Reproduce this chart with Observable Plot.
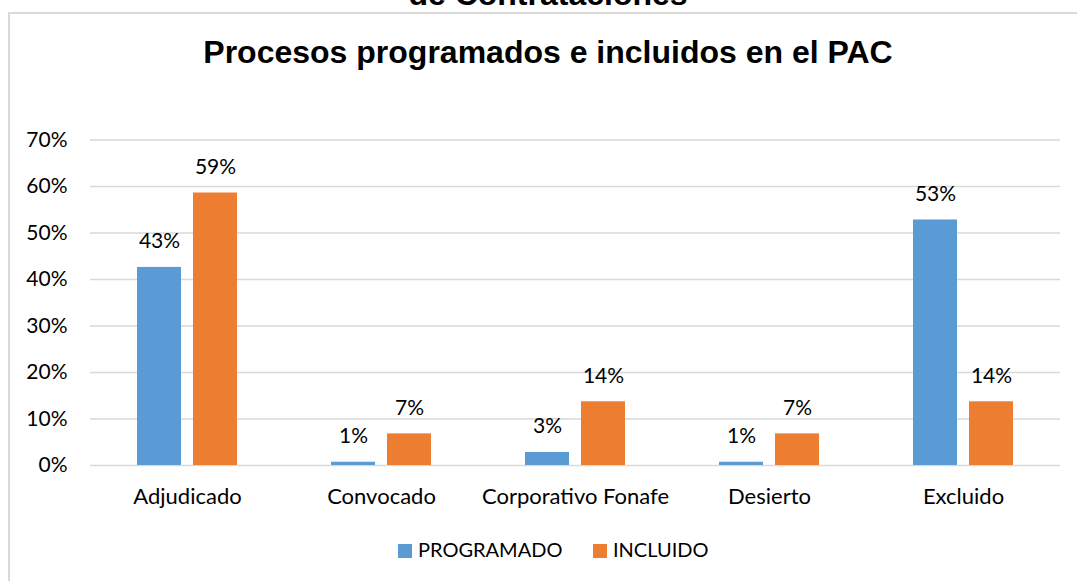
<!DOCTYPE html>
<html>
<head>
<meta charset="utf-8">
<script src="https://cdn.jsdelivr.net/npm/d3@7"></script>
<script src="https://cdn.jsdelivr.net/npm/@observablehq/plot@0.6"></script>
<style>
  html, body { margin: 0; padding: 0; background: #fff; }
  body { width: 1077px; height: 581px; overflow: hidden; position: relative; }
  .supertitle, .title {
    position: absolute; left: 0; width: 1096px; text-align: center;
    font-family: "Liberation Sans", Arial, sans-serif; font-weight: bold;
    font-size: 32px; line-height: 1; color: #000; white-space: nowrap;
  }
  .supertitle { top: -22px; }
  .title { top: 36px; }
  .frame {
    position: absolute; left: 8px; top: 12px; width: 1100px; height: 600px;
    border: 2px solid #d9d9d9; box-sizing: border-box;
  }
  #chart { position: absolute; left: 0; top: 120px; }
  .legend { position: absolute; top: 536px; left: 0; font-family: Lato, sans-serif; font-size: 20px; color: #000; }
  .legend .item { position: absolute; white-space: nowrap; line-height: 26px; }
  .legend .sw { display: inline-block; width: 14px; height: 14px; margin-right: 6px; vertical-align: -1px; }
</style>
</head>
<body>
<div class="frame"></div>
<div class="supertitle">de Contrataciones</div>
<div class="title">Procesos programados e incluidos en el PAC</div>
<div id="chart"></div>
<div class="legend" id="legend"></div>
<script>
const categories = ["Adjudicado", "Convocado", "Corporativo Fonafe", "Desierto", "Excluido"];
const series = ["PROGRAMADO", "INCLUIDO"];
const programado = [0.426, 0.007, 0.028, 0.007, 0.528];
const incluido = [0.586, 0.068, 0.137, 0.068, 0.137];
const colors = ["#5b9bd5", "#ed7d31"];
const yTicks = [0, 0.1, 0.2, 0.3, 0.4, 0.5, 0.6, 0.7];

const data = categories.flatMap((c, i) => [
  {cat: c, serie: series[0], value: programado[i]},
  {cat: c, serie: series[1], value: incluido[i]}
]);
const pct = d => Math.round(d * 100) + "%";

const chart = Plot.plot({
  width: 1077,
  height: 400,
  marginLeft: 90,
  marginRight: 17,
  marginTop: 19.5,
  marginBottom: 55,
  style: {fontFamily: "Lato, sans-serif", fontSize: "21px", color: "#000", background: "transparent"},
  fx: {domain: categories, padding: 0, label: null},
  x: {domain: series, paddingInner: 0.21, paddingOuter: 0.83, axis: null},
  y: {domain: [0, 0.7], axis: null},
  color: {domain: series, range: colors},
  marks: [
    Plot.gridY(yTicks, {stroke: "#d9d9d9", strokeOpacity: 1, strokeWidth: 1.5}),
    Plot.axisY(yTicks, {tickSize: 0, tickPadding: 23, tickFormat: pct, label: null, fontSize: 21}),
    Plot.axisFx({anchor: "bottom", tickSize: 0, tickPadding: 23, label: null, fontSize: 22}),
    Plot.barY(data, {fx: "cat", x: "serie", y: "value", fill: "serie"}),
    Plot.text(data, {fx: "cat", x: "serie", y: "value", text: d => pct(d.value), dy: -26, lineAnchor: "middle", fill: "#000", fontSize: 21})
  ]
});
document.getElementById("chart").appendChild(chart);

const legend = document.getElementById("legend");
const lx = [398, 593];
series.forEach((s, i) => {
  const item = document.createElement("div");
  item.className = "item";
  item.style.left = lx[i] + "px";
  item.innerHTML = `<span class="sw" style="background:${colors[i]}"></span>${s}`;
  legend.appendChild(item);
});
</script>
</body>
</html>
